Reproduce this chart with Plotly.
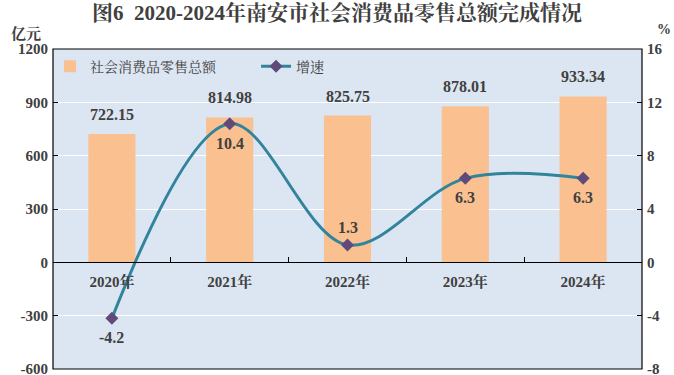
import plotly.graph_objects as go

years = ["2020年", "2021年", "2022年", "2023年", "2024年"]
sales = [722.15, 814.98, 825.75, 878.01, 933.34]
growth = [-4.2, 10.4, 1.3, 6.3, 6.3]
growth_label_side = ["below", "below", "above", "below", "below"]

left_ticks = [-600, -300, 0, 300, 600, 900, 1200]
left_tick_text = ["-600", "-300", "0", "300", "600", "900", "1200"]
right_ticks = [-8, -4, 0, 4, 8, 12, 16]
right_tick_text = ["-8", "-4", "0", "4", "8", "12", "16"]

FONT = "Liberation Serif, Times New Roman, Noto Serif CJK SC, Noto Sans CJK SC, serif"
TXT = "#404040"
NBSP = "\u00a0"

fig = go.Figure()
fig.add_trace(go.Bar(
    x=years, y=sales, name="社会消费品零售总额" + NBSP * 10,
    marker=dict(color="#FAC090", line=dict(width=0)),
    width=0.4, yaxis="y",
))
fig.add_trace(go.Scatter(
    x=years, y=growth, name="增速", yaxis="y2",
    mode="lines+markers",
    line=dict(color="#31849B", width=3, shape="spline", smoothing=1.0),
    marker=dict(symbol="diamond", size=10, color="#604A7B"),
))

for x, v in zip(years, sales):
    fig.add_annotation(x=x, y=v, xref="x", yref="y", text=f"<b>{v:.2f}</b>",
                       showarrow=False, yanchor="bottom", yshift=9,
                       font=dict(family=FONT, size=16, color=TXT))
for x, v, side in zip(years, growth, growth_label_side):
    fig.add_annotation(x=x, y=v, xref="x", yref="y2", text=f"<b>{v}</b>",
                       showarrow=False,
                       yanchor="bottom" if side == "above" else "top",
                       yshift=7 if side == "above" else -9,
                       font=dict(family=FONT, size=16, color=TXT))

fig.add_annotation(x=-0.045, y=1.015, xref="paper", yref="paper", text="<b>亿元</b>",
                   showarrow=False, xanchor="center", yanchor="bottom",
                   font=dict(family=FONT, size=15, color=TXT))
fig.add_annotation(x=1.038, y=1.03, xref="paper", yref="paper", text="<b>%</b>",
                   showarrow=False, xanchor="center", yanchor="bottom",
                   font=dict(family=FONT, size=14, color=TXT))

fig.add_shape(type="rect", xref="paper", yref="paper", x0=0, x1=1, y0=0, y1=1,
              line=dict(color="black", width=1.2), layer="above")

fig.update_layout(
    width=674, height=375,
    margin=dict(l=53, r=32, t=49, b=6, autoexpand=False),
    paper_bgcolor="white", plot_bgcolor="#DCE6F2",
    title=dict(text="<b>图6  2020-2024年南安市社会消费品零售总额完成情况</b>",
               x=0.5, xanchor="center", y=0.985, yanchor="top",
               font=dict(family=FONT, size=21, color=TXT)),
    font=dict(family=FONT, color=TXT),
    bargap=0.6,
    legend=dict(orientation="h", x=-0.005, y=0.995, xanchor="left", yanchor="top",
                bgcolor="rgba(0,0,0,0)", font=dict(family=FONT, size=14, color=TXT),
                itemwidth=30, traceorder="normal"),
    xaxis=dict(anchor="free", position=1/3, showline=True, linecolor="black", linewidth=1.2,
               ticks="inside", tickson="boundaries", ticklen=5, tickcolor="black",
               tickfont=dict(family=FONT, size=15, color=TXT), showgrid=False,
               ticklabelstandoff=6, domain=[0, 1], automargin=False),
    yaxis=dict(range=[-600, 1200], tickmode="array", tickvals=left_ticks,
               ticktext=[f"<b>{t}</b>" for t in left_tick_text],
               showgrid=True, gridcolor="white",
               gridwidth=1.2, zeroline=True, zerolinecolor="black", zerolinewidth=1.2,
               ticks="inside", ticklen=5, tickcolor="black",
               tickfont=dict(family=FONT, size=15, color=TXT),
               domain=[0, 1], automargin=False, ticklabelstandoff=4, ticklabeloverflow="allow"),
    yaxis2=dict(range=[-8, 16], tickmode="array", tickvals=right_ticks,
                ticktext=[f"<b>{t}</b>" for t in right_tick_text],
                overlaying="y", side="right",
                showgrid=False, zeroline=False, ticks="inside", ticklen=5, tickcolor="black",
                tickfont=dict(family=FONT, size=15, color=TXT),
                automargin=False, ticklabelstandoff=4, ticklabeloverflow="allow"),
)
fig.update_xaxes(tickprefix="<b>", ticksuffix="</b>")

fig.write_html("out.html", config={"displayModeBar": False},
               post_script="document.body.style.margin='0';document.body.style.overflow='hidden';")
